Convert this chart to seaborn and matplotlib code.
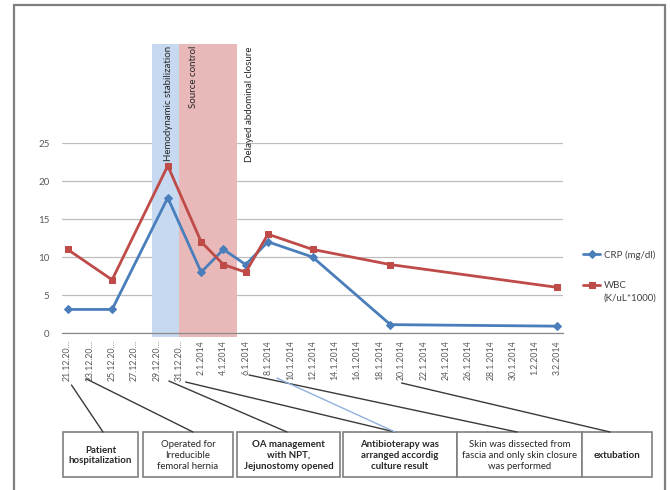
import matplotlib
matplotlib.use("Agg")
import matplotlib.pyplot as plt
import numpy as np
import pandas as pd
import seaborn as sns
from matplotlib.patches import Rectangle, ConnectionPatch
from matplotlib.transforms import blended_transform_factory, IdentityTransform

# ---- data -------------------------------------------------------------
start_date = pd.Timestamp("2013-12-21")
sample_dates = ["21.12.2013", "25.12.2013", "30.12.2013", "2.1.2014", "4.1.2014",
                "6.1.2014", "8.1.2014", "12.1.2014", "19.1.2014", "3.2.2014"]
crp = [3.1, 3.1, 17.8, 8.0, 11.0, 9.0, 12.0, 10.0, 1.1, 0.9]
wbc = [11.0, 7.0, 22.0, 12.0, 9.0, 8.0, 13.0, 11.0, 9.0, 6.0]

tick_labels = ["21.12.20…", "23.12.20…", "25.12.20…", "27.12.20…", "29.12.20…",
               "31.12.20…", "2.1.2014", "4.1.2014", "6.1.2014", "8.1.2014",
               "10.1.2014", "12.1.2014", "14.1.2014", "16.1.2014", "18.1.2014",
               "20.1.2014", "22.1.2014", "24.1.2014", "26.1.2014", "28.1.2014",
               "30.1.2014", "1.2.2014", "3.2.2014"]

# treatment phases (day offsets from admission)
phase_names = ["Hemodynamic stabilization", "Source control"]
phase_start = [7.6, 10.05]
phase_end = [10.05, 15.2]
phase_colors = ["#c7d9f0", "#e9b9b9"]
phase_text_x = [9.1, 11.3]
closure_label = "Delayed abdominal closure"
closure_day = 16.3

# clinical events shown in boxes under the axis
event_texts = ["Patient\nhospitalization",
               "Operated for\nIrreducible\nfemoral hernia",
               "OA management\nwith NPT,\nJejunostomy opened",
               "Antibioterapy was\narranged accordig\nculture result",
               "Skin was dissected from\nfascia and only skin closure\nwas performed",
               "extubation"]
event_bold = [True, False, True, True, False, True]

# ---- style -------------------------------------------------------------
sns.set_style("white")
plt.rcParams["font.family"] = ["Lato", "DejaVu Sans"]

CRP_C = "#4a7ebb"
WBC_C = "#be4b48"
GREY = "#595959"

W, H = 670, 490
fig = plt.figure(figsize=(W / 100, H / 100), dpi=100)

# pixel-space layer for frame, boxes and leader lines
bg = fig.add_axes([0, 0, 1, 1])
bg.set_xlim(0, W)
bg.set_ylim(H, 0)
bg.axis("off")

ax = fig.add_axes([62 / W, 1 - 333 / H, 501 / W, 190 / H])
ax.set_zorder(2)

days = (pd.to_datetime(sample_dates, dayfirst=True) - start_date).days.to_numpy()
tick_pos = np.arange(len(tick_labels)) * 2

# phase bands reach above the plotting area
for s, e, c in zip(phase_start, phase_end, phase_colors):
    ax.axvspan(s, e, ymin=-0.021, ymax=1.521, color=c, lw=0, zorder=1, clip_on=False)

sns.lineplot(x=days, y=crp, ax=ax, color=CRP_C, lw=2, marker="D", markersize=4.5,
             markeredgecolor=CRP_C, label="CRP (mg/dl)", zorder=3)
sns.lineplot(x=days, y=wbc, ax=ax, color=WBC_C, lw=2, marker="s", markersize=5,
             markeredgecolor=WBC_C, label="WBC", zorder=3)

ax.set_xlim(-0.5, 44.5)
ax.set_ylim(0, 25)
ax.set_yticks([0, 5, 10, 15, 20, 25])
ax.set_xticks(tick_pos)
ax.set_xticklabels(tick_labels, rotation=90)
ax.set_xticks(np.arange(-0.5, 45, 2), minor=True)
ax.set_axisbelow(True)
ax.grid(axis="y", color="#bdbdbd", lw=0.9)
ax.grid(axis="x", visible=False)
for side in ["top", "right", "left"]:
    ax.spines[side].set_visible(False)
ax.spines["bottom"].set_color("#8a8a8a")
ax.spines["bottom"].set_linewidth(0.9)
ax.tick_params(axis="y", length=0, labelsize=7, labelcolor=GREY, pad=9)
ax.tick_params(axis="x", which="major", length=0, labelsize=6.3, labelcolor=GREY, pad=5)
ax.tick_params(axis="x", which="minor", length=3.5, color="#8a8a8a", width=0.8)
ax.set_xlabel("")
ax.set_ylabel("")

# vertical phase captions
bx = blended_transform_factory(ax.transData, ax.transAxes)
for name, x in zip(phase_names, phase_text_x):
    ax.text(x, 1.512, name, rotation=90, ha="center", va="top", fontsize=7,
            color="#262626", transform=bx, zorder=2)
ax.text(closure_day, 1.507, closure_label, rotation=90, ha="center", va="top",
        fontsize=7, color="#262626", transform=bx)

# legend at the right
leg = ax.legend(loc="upper left", bbox_to_anchor=(583 / W, 1 - 250 / H),
                bbox_transform=fig.transFigure, frameon=False, borderpad=0,
                borderaxespad=0, handlelength=1.75, handletextpad=0.4,
                labelspacing=2.2, fontsize=7)
for t in leg.get_texts():
    t.set_color("#404040")

# outer frame
bg.plot([14, 14, 665, 665], [H + 3, 5, 5, H + 3], color="#7f7f7f", lw=1.6,
        solid_joinstyle="miter", clip_on=False)

# event boxes
box_x0 = [63, 143, 237, 343, 457, 582]
box_x1 = [138, 233, 340, 457, 582, 652]
box_top, box_bot = 432, 477
for x0, x1, txt, b in zip(box_x0, box_x1, event_texts, event_bold):
    bg.add_patch(Rectangle((x0, box_top), x1 - x0, box_bot - box_top, facecolor="white",
                           edgecolor="#7f7f7f", lw=1.2))
    bg.text((x0 + x1) / 2, (box_top + box_bot) / 2 + 1, txt, ha="center", va="center",
            fontsize=6.9, fontweight="bold" if b else "normal", color="#262626",
            linespacing=1.25)

# leader lines from the date labels to the boxes
lead_day = [0.35, 1.7, 9.1, 10.6, 16.3, 18.8, 30.0]
lead_top = [385, 379, 381, 382, 375, 378, 383]
lead_box = [103, 193, 287, 395, 517, 395, 610]
lead_col = ["#3a3a3a"] * 5 + ["#8fb0dc", "#3a3a3a"]
xa = blended_transform_factory(ax.transData, bg.transData)
for d, yt, xb, c in zip(lead_day, lead_top, lead_box, lead_col):
    fig.add_artist(ConnectionPatch(xyA=(d, yt), coordsA=xa, xyB=(xb, box_top),
                                   coordsB=bg.transData, color=c, lw=1.0))

# second line of the WBC legend label, aligned under "WBC"
fig.canvas.draw()
r = fig.canvas.get_renderer()
bb = leg.get_texts()[1].get_window_extent(r)
fig.text(bb.x0, bb.y0 - 4, "(K/uL*1000)", transform=IdentityTransform(),
         ha="left", va="top", fontsize=7, color="#404040")

fig.savefig("out.png", dpi=100)
